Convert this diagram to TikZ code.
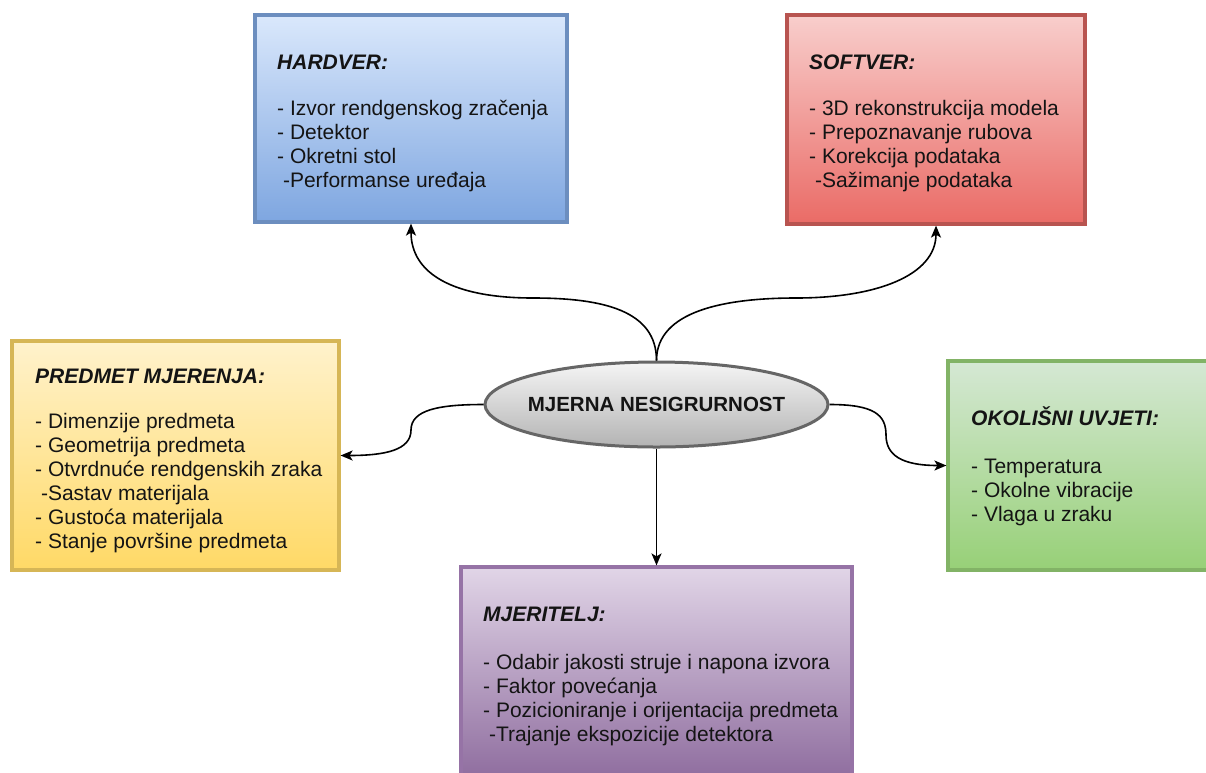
\documentclass[tikz,border=0pt]{standalone}
\usepackage{fontspec}
\setmainfont{Liberation Sans}
\usetikzlibrary{shapes.geometric,arrows.meta}
\definecolor{bluetop}{HTML}{DAE8FC}\definecolor{bluebot}{HTML}{7EA6E0}\definecolor{bluestr}{HTML}{6C8EBF}
\definecolor{redtop}{HTML}{F8CECC}\definecolor{redbot}{HTML}{EA6B66}\definecolor{redstr}{HTML}{B85450}
\definecolor{yeltop}{HTML}{FFF2CC}\definecolor{yelbot}{HTML}{FFD966}\definecolor{yelstr}{HTML}{D6B656}
\definecolor{grntop}{HTML}{D5E8D4}\definecolor{grnbot}{HTML}{97D077}\definecolor{grnstr}{HTML}{82B366}
\definecolor{purtop}{HTML}{E1D5E7}\definecolor{purbot}{HTML}{8E6C9E}\definecolor{purstr}{HTML}{9673A6}
\definecolor{gratop}{HTML}{F5F5F5}\definecolor{grabot}{HTML}{B3B3B3}\definecolor{grastr}{HTML}{666666}
\begin{document}
\begin{tikzpicture}[x=1pt,y=-1pt,
  box/.style={rectangle, line width=3.2pt, inner sep=0pt},
  bluebox/.style={box, draw=bluestr, top color=bluetop, bottom color=bluebot},
  redbox/.style={box, draw=redstr, top color=redtop, bottom color=redbot},
  yelbox/.style={box, draw=yelstr, top color=yeltop, bottom color=yelbot},
  grnbox/.style={box, draw=grnstr, top color=grntop, bottom color=grnbot},
  purbox/.style={box, draw=purstr, top color=purtop, bottom color=purbot},
  ellbox/.style={ellipse, line width=3pt, inner sep=0pt, draw=grastr, top color=gratop, bottom color=grabot, minimum width=343pt, minimum height=85pt},
  txt/.style={anchor=base west, align=left, inner sep=0pt, text=black!92, font=\fontsize{21}{24}\selectfont},
  conn/.style={line width=1.6pt, -{Stealth[length=12pt,width=10pt,inset=3pt]}}]
\useasboundingbox (0,0) rectangle (1206,772);
\clip (0,0) rectangle (1206,772);
\fill[white] (0,0) rectangle (1206,772);

\node[bluebox, minimum width=312pt, minimum height=207pt] (hw) at (411,118.5) {};
\node[txt] (hwt) at (277,187.5) {\textbf{\textit{HARDVER:}}\\[22pt]- Izvor rendgenskog zračenja\\- Detektor\\- Okretni stol\\\ -Performanse uređaja};

\node[redbox, minimum width=298pt, minimum height=209pt] (sw) at (936,119.5) {};
\node[txt] (swt) at (809,187.5) {\textbf{\textit{SOFTVER:}}\\[22pt]- 3D rekonstrukcija modela\\- Prepoznavanje rubova\\- Korekcija podataka\\\ -Sažimanje podataka};

\node[yelbox, minimum width=327pt, minimum height=229pt] (pm) at (175.5,455.5) {};
\node[txt] (pmt) at (35,548.5) {\textbf{\textit{PREDMET MJERENJA:}}\\[21pt]- Dimenzije predmeta\\- Geometrija predmeta\\- Otvrdnuće rendgenskih zraka\\\ -Sastav materijala\\- Gustoća materijala\\- Stanje površine predmeta};

\node[grnbox, minimum width=270pt, minimum height=209pt] (ok) at (1083,465.5) {};
\node[txt] (okt) at (971,521.5) {\textbf{\textit{OKOLIŠNI UVJETI:}}\\[24pt]- Temperatura\\- Okolne vibracije\\- Vlaga u zraku};

\node[purbox, minimum width=391pt, minimum height=214pt] (mj) at (656.5,674) {};
\node[txt] (mjt) at (483,741.5) {\textbf{\textit{MJERITELJ:}}\\[24pt]- Odabir jakosti struje i napona izvora\\- Faktor povećanja\\- Pozicioniranje i orijentacija predmeta\\\ -Trajanje ekspozicije detektora};

\node[ellbox] (ell) at (656.5,404.5) {};
\node[inner sep=0pt, font=\bfseries\fontsize{20.5}{24}\selectfont, text=black!92] (ellt) at (ell.center) {MJERNA NESIGRURNOST};

\coordinate (hwm) at (533,298);
\coordinate (swm) at (796,298);
\coordinate (lm) at (411,430);
\coordinate (rm) at (886,435);

\draw[conn] (ell.north) .. controls +(0,-50) and +(70,0) .. (hwm) .. controls +(-80,0) and +(0,50) .. (hw.south);
\draw[conn] (ell.north) .. controls +(0,-50) and +(-70,0) .. (swm) .. controls +(80,0) and +(0,50) .. (sw.south);
\draw[conn] (ell.west) .. controls +(-45,0) and +(0,-20) .. (lm) .. controls +(0,20) and +(45,0) .. (pm.east);
\draw[conn] (ell.east) .. controls +(45,0) and +(0,-20) .. (rm) .. controls +(0,20) and +(-45,0) .. (ok.west);
\draw[conn] (ell.south) -- (mj.north);
\end{tikzpicture}
\end{document}
